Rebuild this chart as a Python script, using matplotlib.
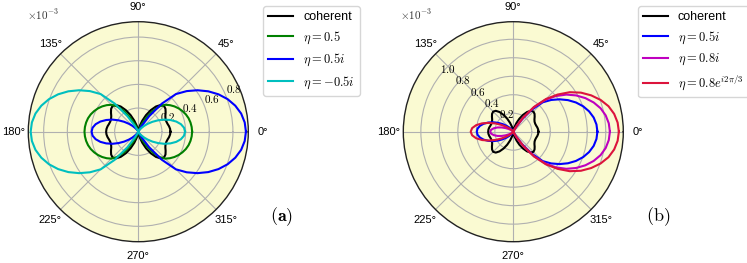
import numpy as np
from matplotlib import pyplot as plt

plt.rcParams['font.family'] = ['Liberation Sans', 'DejaVu Sans']
plt.rcParams['mathtext.fontset'] = 'cm'

# angles (deg) 0..180, the curves are mirrored about the 0-180 axis
angles = np.arange(0, 181, 5)

# values, in units of 1e-3
coherent = [0.272, 0.270, 0.264, 0.256, 0.252, 0.254, 0.264, 0.282, 0.300, 0.308,
            0.295, 0.260, 0.210, 0.155, 0.100, 0.055, 0.022, 0.005, 0.000,
            0.005, 0.022, 0.055, 0.100, 0.155, 0.210, 0.260, 0.295, 0.308, 0.300,
            0.282, 0.264, 0.254, 0.252, 0.256, 0.264, 0.270, 0.272]
eta_05 = [0.455, 0.453, 0.448, 0.440, 0.428, 0.412, 0.394, 0.373, 0.349, 0.322,
          0.280, 0.215, 0.140, 0.075, 0.032, 0.010, 0.000, 0.000, 0.000,
          0.000, 0.000, 0.010, 0.032, 0.075, 0.140, 0.215, 0.280, 0.322, 0.349,
          0.373, 0.394, 0.412, 0.428, 0.440, 0.448, 0.453, 0.455]
eta_05i = [0.910, 0.903, 0.883, 0.849, 0.804, 0.748, 0.683, 0.611, 0.534, 0.450,
           0.310, 0.160, 0.055, 0.010, 0.000, 0.000, 0.000, 0.000, 0.000,
           0.000, 0.000, 0.0005, 0.002, 0.005, 0.012, 0.025, 0.043, 0.070, 0.104,
           0.146, 0.192, 0.242, 0.289, 0.332, 0.366, 0.388, 0.395]
eta_m05i = eta_05i[::-1]
eta_08i = [1.045, 1.037, 1.015, 0.978, 0.925, 0.860, 0.785, 0.700, 0.600, 0.485,
           0.345, 0.185, 0.065, 0.012, 0.000, 0.000, 0.000, 0.000, 0.000,
           0.000, 0.000, 0.000, 0.000, 0.000, 0.000, 0.001, 0.003, 0.008, 0.017,
           0.034, 0.059, 0.093, 0.134, 0.177, 0.214, 0.241, 0.250]
eta_08phase = [1.142, 1.133, 1.108, 1.066, 1.005, 0.930, 0.845, 0.745, 0.625, 0.500,
               0.350, 0.190, 0.070, 0.015, 0.000, 0.000, 0.000, 0.000, 0.000,
               0.000, 0.000, 0.000, 0.000, 0.0005, 0.002, 0.005, 0.013, 0.029, 0.055,
               0.093, 0.146, 0.210, 0.280, 0.349, 0.408, 0.447, 0.461]


def full(r):
    r = np.asarray(r)
    th = np.r_[angles, 360 - angles[::-1][1:]]
    return np.deg2rad(th), np.r_[r, r[::-1][1:]]


def style(ax, rmax, rticks, rlabel_pos):
    ax.set_facecolor('#fafad2')
    ax.set_rlim(0, rmax)
    ax.set_rticks(rticks)
    ax.set_yticklabels([f'${t:.1f}$' for t in rticks], fontsize=8)
    ax.set_rlabel_position(rlabel_pos)
    ax.set_thetagrids(range(0, 360, 45), fontsize=8)
    ax.tick_params(axis='x', pad=0)
    ax.grid(color='#b0b0b0', linewidth=0.8)
    ax.spines['polar'].set_color('#222222')
    ax.spines['polar'].set_linewidth(1.0)


fig = plt.figure(figsize=(7.47, 2.63), dpi=100)

axa = fig.add_axes([(138.3 - 110) / 747, (131.3 - 110) / 263, 220 / 747, 220 / 263], projection='polar')
for r, c, lab in [(coherent, 'k', 'coherent'), (eta_05, 'g', r'$\eta=0.5$'),
                  (eta_05i, 'b', r'$\eta=0.5i$'), (eta_m05i, 'c', r'$\eta=-0.5i$')]:
    th, rr = full(r)
    axa.plot(th, rr, color=c, lw=1.5, label=lab)
style(axa, 0.93, [0.2, 0.4, 0.6, 0.8], 22.5)
axa.legend(loc='upper left', bbox_to_anchor=(263 / 747, 1 - 6 / 263), bbox_transform=fig.transFigure,
           borderaxespad=0, fontsize=9)

axb = fig.add_axes([(513.3 - 110) / 747, (131.3 - 110) / 263, 220 / 747, 220 / 263], projection='polar')
for r, c, lab in [(coherent, 'k', 'coherent'), (eta_05i, 'b', r'$\eta=0.5i$'),
                  (eta_08i, 'm', r'$\eta=0.8i$'), (eta_08phase, 'crimson', r'$\eta=0.8e^{i2\pi/3}$')]:
    th, rr = full(r)
    axb.plot(th, rr, color=c, lw=1.5, label=lab)
style(axb, 1.19, [0.2, 0.4, 0.6, 0.8, 1.0], 142)
axb.legend(loc='upper left', bbox_to_anchor=(638 / 747, 1 - 6 / 263), bbox_transform=fig.transFigure,
           borderaxespad=0, fontsize=9)

fig.text(27 / 747, 1 - 15 / 263, r'$\times10^{-3}$', fontsize=8, ha='left', va='center', color='#333333')
fig.text(400 / 747, 1 - 15 / 263, r'$\times10^{-3}$', fontsize=8, ha='left', va='center', color='#333333')
fig.text(282 / 747, 1 - 217 / 263, r'$\mathbf{(a)}$', fontsize=13, ha='center', va='center')
fig.text(658 / 747, 1 - 217 / 263, r'$(\mathrm{b})$', fontsize=13, ha='center', va='center')

fig.savefig('out.png', dpi=100)
